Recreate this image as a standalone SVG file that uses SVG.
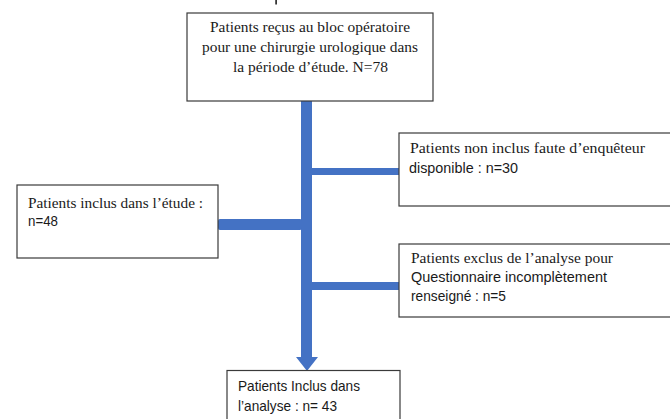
<svg xmlns="http://www.w3.org/2000/svg" width="670" height="419" viewBox="0 0 670 419">
<style>
.box{fill:#fff;stroke:#3a3a3a;stroke-width:1.2}
.bar{fill:#4472C4}
.serif{font-family:"Liberation Serif","Times New Roman",serif;font-size:14.5px;fill:#1a1a1a}
.sans{font-family:"Liberation Sans",Arial,sans-serif;font-size:14.5px;fill:#1a1a1a}
</style>
<rect width="670" height="419" fill="#fff"/>
<rect x="275.3" y="0" width="1.6" height="4.5" fill="#222"/>
<g id="connectors">
<rect class="bar" x="301" y="101" width="11" height="257"/>
<polygon class="bar" points="296,357 318,357 307,371"/>
<rect class="bar" x="312" y="168" width="87" height="7"/>
<rect class="bar" x="312" y="282" width="87" height="8"/>
<rect class="bar" x="218" y="219" width="84" height="11" rx="2"/>
</g>
<g id="n-recus">
<rect class="box" x="187" y="13" width="246" height="88"/>
<text class="serif" x="210" y="32" textLength="200" lengthAdjust="spacingAndGlyphs">Patients reçus au bloc opératoire</text>
<text class="serif" x="202" y="52" textLength="216" lengthAdjust="spacingAndGlyphs">pour une chirurgie urologique dans</text>
<text class="serif" x="233" y="72" textLength="155" lengthAdjust="spacingAndGlyphs">la période d’étude. N=78</text>
</g>
<g id="n-noninclus">
<rect class="box" x="399" y="133" width="280" height="73"/>
<text class="serif" x="410" y="153" textLength="235" lengthAdjust="spacingAndGlyphs">Patients non inclus faute d’enquêteur</text>
<text class="sans" x="409" y="173" textLength="109" lengthAdjust="spacingAndGlyphs">disponible : n=30</text>
</g>
<g id="n-inclus">
<rect class="box" x="17" y="185" width="201" height="73"/>
<text class="serif" x="28" y="208" textLength="175" lengthAdjust="spacingAndGlyphs">Patients inclus dans l’étude :</text>
<text class="sans" x="28" y="226" textLength="30" lengthAdjust="spacingAndGlyphs">n=48</text>
</g>
<g id="n-exclus">
<rect class="box" x="399" y="244" width="280" height="73"/>
<text class="serif" x="411" y="263" textLength="202" lengthAdjust="spacingAndGlyphs">Patients exclus de l’analyse pour</text>
<text class="sans" x="411" y="282" textLength="196" lengthAdjust="spacingAndGlyphs">Questionnaire incomplètement</text>
<text class="sans" x="411" y="301" textLength="95" lengthAdjust="spacingAndGlyphs">renseigné : n=5</text>
</g>
<g id="n-analyse">
<rect class="box" x="227" y="370.5" width="173" height="60"/>
<text class="sans" x="238" y="391" textLength="122" lengthAdjust="spacingAndGlyphs">Patients Inclus dans</text>
<text class="sans" x="238" y="411" textLength="99" lengthAdjust="spacingAndGlyphs">l’analyse : n= 43</text>
</g>
</svg>
